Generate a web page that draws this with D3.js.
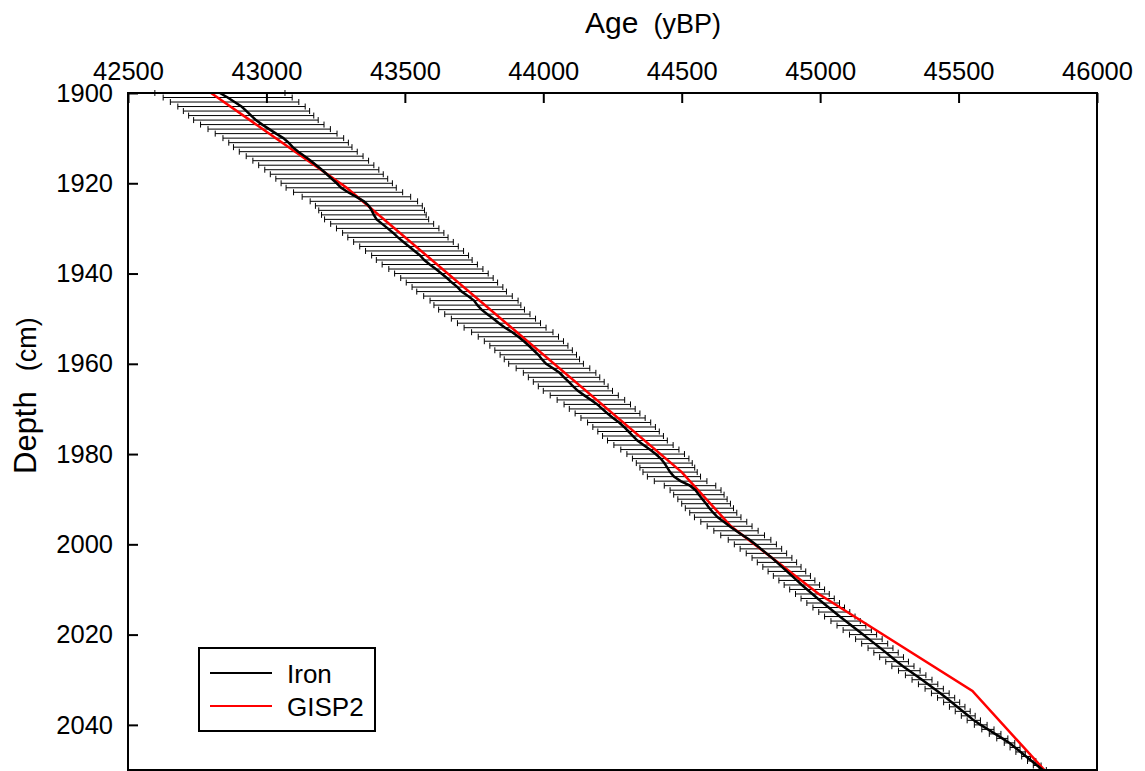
<!DOCTYPE html>
<html>
<head>
<meta charset="utf-8">
<script src="https://cdn.jsdelivr.net/npm/d3@7"></script>
<style>
  html, body { margin: 0; padding: 0; background: #fff; }
  svg text { font-family: "Liberation Sans", Arial, sans-serif; fill: #000; }
</style>
</head>
<body>
<div id="chart"></div>
<script>
// Depths (cm), one reading per centimetre
const depths = d3.range(1900, 2051);

// Iron age model (yBP), 1900..2050 cm
const ironAge = [
    42832, 42860, 42885, 42910, 42928, 42945, 42962, 42985, 43010, 43035,
    43061, 43080, 43095, 43115, 43138, 43160, 43180, 43200, 43218, 43236,
    43254, 43270, 43295, 43325, 43352, 43370, 43380, 43388, 43398, 43418,
    43438, 43458, 43475, 43495, 43515, 43535, 43555, 43570, 43590, 43612,
    43632, 43652, 43670, 43690, 43705, 43728, 43750, 43762, 43777, 43798,
    43820, 43840, 43862, 43888, 43910, 43930, 43948, 43965, 43982, 43995,
    44010, 44035, 44059, 44075, 44092, 44108, 44125, 44148, 44172, 44195,
    44213, 44232, 44252, 44274, 44292, 44308, 44324, 44340, 44362, 44385,
    44406, 44424, 44437, 44448, 44458, 44472, 44496, 44530, 44550, 44562,
    44575, 44588, 44600, 44614, 44630, 44652, 44673, 44696, 44720, 44745,
    44766, 44786, 44806, 44826, 44844, 44862, 44880, 44898, 44916, 44934,
    44953, 44972, 44991, 45011, 45031, 45051, 45071, 45092, 45113, 45134,
    45155, 45176, 45197, 45218, 45238, 45258, 45278, 45299, 45322, 45345,
    45368, 45390, 45412, 45434, 45455, 45475, 45495, 45515, 45535, 45555,
    45580, 45606, 45632, 45658, 45684, 45704, 45724, 45744, 45764, 45784,
    45804
];

// Half width of the error bars (years), same depths
const ironErr = [
    235, 233, 232, 230, 228, 226, 225, 223, 221, 220,
    218, 216, 214, 213, 211, 209, 208, 206, 204, 202,
    201, 199, 197, 196, 194, 193, 191, 189, 188, 186,
    185, 183, 181, 180, 178, 177, 175, 173, 172, 170,
    169, 167, 165, 164, 162, 160, 159, 157, 155, 154,
    152, 150, 148, 147, 145, 143, 141, 140, 138, 136,
    135, 133, 131, 129, 128, 126, 125, 123, 122, 120,
    119, 117, 116, 114, 113, 111, 110, 108, 107, 105,
    104, 102, 101, 99, 98, 96, 95, 93, 92, 91,
    89, 88, 87, 85, 84, 83, 81, 80, 79, 77,
    76, 75, 73, 72, 71, 69, 68, 67, 65, 64,
    63, 61, 60, 59, 57, 56, 55, 53, 52, 51,
    49, 48, 47, 45, 44, 43, 41, 40, 39, 37,
    36, 35, 33, 32, 31, 29, 28, 27, 25, 24,
    23, 22, 21, 20, 19, 18, 17, 16, 15, 14,
    13
];

// GISP2 tie points
const gispDepth = [1900, 1921, 1984, 1996, 2011, 2032.5, 2050];
const gispAge = [42800, 43290, 44500, 44678, 44995, 45550, 45810];

const ageTicks = [42500, 43000, 43500, 44000, 44500, 45000, 45500, 46000];
const depthTicks = [1900, 1920, 1940, 1960, 1980, 2000, 2020, 2040];

const legendItems = [
    { name: 'Iron', color: '#000' },
    { name: 'GISP2', color: '#f00' }
];

const width = 1145,
    height = 771;
const plot = { left: 128, right: 1097, top: 93, bottom: 770 };

const svg = d3
    .select('#chart')
    .append('svg')
    .attr('width', width)
    .attr('height', height);

const x = d3.scaleLinear().domain([42500, 46000]).range([plot.left, plot.right]);
const y = d3.scaleLinear().domain([1900, 2050]).range([plot.top, plot.bottom]);

// error bars
const iron = depths.map((d, i) => ({ depth: d, age: ironAge[i], err: ironErr[i] }));
const bars = svg.append('g').attr('stroke', '#000').attr('stroke-width', 1);
bars.selectAll('line.bar')
    .data(iron)
    .enter()
    .append('line')
    .attr('class', 'bar')
    .attr('x1', (d) => x(d.age - d.err))
    .attr('x2', (d) => x(d.age + d.err))
    .attr('y1', (d) => y(d.depth))
    .attr('y2', (d) => y(d.depth));
['lo', 'hi'].forEach((side) => {
    bars.selectAll('line.cap-' + side)
        .data(iron)
        .enter()
        .append('line')
        .attr('class', 'cap-' + side)
        .attr('x1', (d) => x(side === 'lo' ? d.age - d.err : d.age + d.err))
        .attr('x2', (d) => x(side === 'lo' ? d.age - d.err : d.age + d.err))
        .attr('y1', (d) => y(d.depth) - 3)
        .attr('y2', (d) => y(d.depth) + 3);
});

const line = d3
    .line()
    .x((d) => x(d[0]))
    .y((d) => y(d[1]));

// GISP2 curve
svg.append('path')
    .datum(gispDepth.map((d, i) => [gispAge[i], d]))
    .attr('d', line)
    .attr('fill', 'none')
    .attr('stroke', '#f00')
    .attr('stroke-width', 2.5);

// Iron curve
svg.append('path')
    .datum(iron.map((d) => [d.age, d.depth]))
    .attr('d', line)
    .attr('fill', 'none')
    .attr('stroke', '#000')
    .attr('stroke-width', 2.5);

// axes with inward ticks
const xAxis = svg
    .append('g')
    .attr('transform', `translate(0,${plot.top})`)
    .call(d3.axisTop(x).tickValues(ageTicks).tickSize(-10).tickPadding(13).tickFormat(d3.format('d')));
const yAxis = svg
    .append('g')
    .attr('transform', `translate(${plot.left},0)`)
    .call(d3.axisLeft(y).tickValues(depthTicks).tickSize(-10).tickPadding(15).tickFormat(d3.format('d')));
[xAxis, yAxis].forEach((g) => {
    g.select('.domain').remove();
    g.selectAll('.tick line').attr('stroke', '#000').attr('stroke-width', 2);
    g.selectAll('.tick text')
        .attr('font-family', '"Liberation Sans", Arial, sans-serif')
        .attr('font-size', 25.5)
        .attr('fill', '#000');
});

// frame
svg.append('rect')
    .attr('x', plot.left)
    .attr('y', plot.top)
    .attr('width', plot.right - plot.left)
    .attr('height', plot.bottom - plot.top)
    .attr('fill', 'none')
    .attr('stroke', '#000')
    .attr('stroke-width', 2);

// axis titles
const xTitle = svg.append('text').attr('x', 585).attr('y', 33);
xTitle.append('tspan').attr('font-size', 30).text('Age');
xTitle.append('tspan').attr('dx', 15).attr('font-size', 27).text('(yBP)');

const yTitle = svg
    .append('text')
    .attr('transform', 'translate(36,474) rotate(-90)');
yTitle.append('tspan').attr('font-size', 31).text('Depth');
yTitle.append('tspan').attr('dx', 20).attr('font-size', 27).text('(cm)');

// legend
const legend = svg.append('g').attr('transform', 'translate(199,648)');
legend.append('rect')
    .attr('width', 176)
    .attr('height', 83)
    .attr('fill', '#fff')
    .attr('stroke', '#000')
    .attr('stroke-width', 2);
legendItems.forEach((item, i) => {
    const row = legend.append('g').attr('transform', `translate(0,${25 + i * 33})`);
    row.append('line')
        .attr('x1', 11)
        .attr('x2', 73)
        .attr('stroke', item.color)
        .attr('stroke-width', 2);
    row.append('text')
        .attr('x', 88)
        .attr('y', 10)
        .attr('font-size', 26)
        .text(item.name);
});
</script>
</body>
</html>
